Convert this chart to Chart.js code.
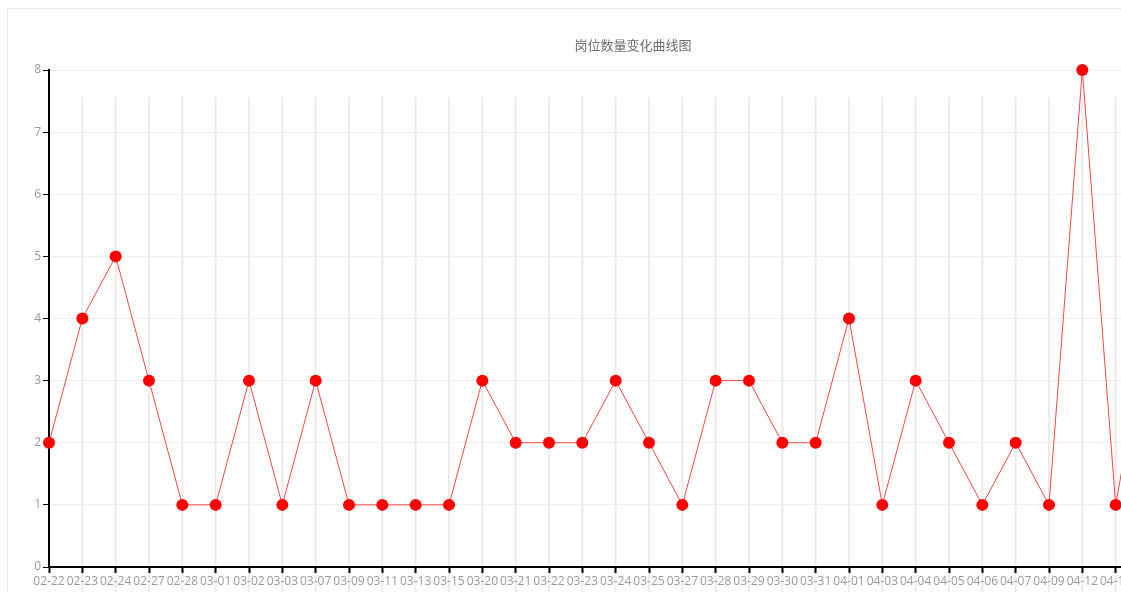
<!DOCTYPE html>
<html>
<head>
<meta charset="utf-8">
<script src="https://cdn.jsdelivr.net/npm/chart.js@4/dist/chart.umd.min.js"></script>
<style>
  body { margin: 0; background: #fff; overflow: hidden; }
  .card {
    position: absolute; left: 7px; top: 8px;
    width: 1250px; height: 600px;
    border: 1px solid #ececec;
  }
</style>
</head>
<body>
<div class="card">
  <canvas id="jobChart" width="1250" height="600"></canvas>
</div>
<script>
// 日期（横轴）
const dates = ['02-22', '02-23', '02-24', '02-27', '02-28', '03-01', '03-02', '03-03', '03-07', '03-09',
  '03-11', '03-13', '03-15', '03-20', '03-21', '03-22', '03-23', '03-24', '03-25', '03-27',
  '03-28', '03-29', '03-30', '03-31', '04-01', '04-03', '04-04', '04-05', '04-06', '04-07',
  '04-09', '04-12', '04-13', '04-14'];

// 岗位数量
const jobCounts = [2, 4, 5, 3, 1, 1, 3, 1, 3, 1,
  1, 1, 1, 3, 2, 2, 2, 3, 2, 1,
  3, 3, 2, 2, 4, 1, 3, 2, 1, 2,
  1, 8, 1, 4];

const yTicks = [0, 1, 2, 3, 4, 5, 6, 7, 8];

// 竖向分隔线：从图表顶部稍下方一直画到底部
const splitLines = {
  id: 'splitLines',
  beforeDraw(chart) {
    const x = chart.scales.x;
    const c = chart.ctx;
    c.save();
    c.strokeStyle = '#ebebeb';
    c.lineWidth = 2;
    for (let i = 1; i < dates.length; i++) {
      const px = x.getPixelForTick(i);
      c.beginPath();
      c.moveTo(px, chart.chartArea.top + 27);
      c.lineTo(px, chart.height);
      c.stroke();
    }
    c.restore();
  }
};

const ctx = document.getElementById('jobChart').getContext('2d');

new Chart(ctx, {
  type: 'line',
  data: {
    labels: dates,
    datasets: [{
      label: '岗位数量',
      data: jobCounts,
      borderColor: 'rgba(240, 50, 50, 0.9)',
      borderWidth: 1,
      backgroundColor: '#ff0000',
      pointBackgroundColor: '#ff0000',
      pointBorderWidth: 0,
      pointRadius: 6,
      tension: 0,
      fill: false,
      clip: false
    }]
  },
  options: {
    responsive: false,
    animation: false,
    layout: { padding: 0 },
    plugins: {
      legend: { display: false },
      tooltip: { enabled: false },
      title: {
        display: true,
        text: '岗位数量变化曲线图',
        color: '#6e6e6e',
        font: { family: '"Noto Sans CJK SC", sans-serif', size: 13, weight: 'normal' },
        padding: { top: 28, bottom: 17.4 }
      }
    },
    scales: {
      x: {
        offset: false,
        grid: {
          drawOnChartArea: false,
          drawTicks: true,
          tickLength: 6,
          tickColor: '#000',
          tickWidth: 2
        },
        border: { color: '#000', width: 2 },
        ticks: {
          autoSkip: false,
          maxRotation: 0,
          minRotation: 0,
          padding: 1,
          color: '#999',
          font: { family: '"Open Sans", sans-serif', size: 12 }
        },
        afterFit(scale) { scale.height = 42; }
      },
      y: {
        min: 0,
        max: 8,
        afterBuildTicks(scale) { scale.ticks = yTicks.map(v => ({ value: v })); },
        grid: {
          color: '#eeeeee',
          lineWidth: 1,
          tickLength: 6,
          tickColor: '#000',
          tickWidth: 1
        },
        border: { color: '#000', width: 2 },
        ticks: {
          padding: 2,
          color: '#999',
          font: { family: '"Open Sans", sans-serif', size: 12 }
        },
        afterFit(scale) { scale.width = 41; }
      },
      // 右侧留白（画布超出窗口部分）
      yRight: {
        position: 'right',
        min: 0,
        max: 8,
        grid: { display: false },
        border: { display: false },
        ticks: { display: false },
        afterFit(scale) { scale.width = 109; }
      }
    }
  },
  plugins: [splitLines]
});
</script>
</body>
</html>
